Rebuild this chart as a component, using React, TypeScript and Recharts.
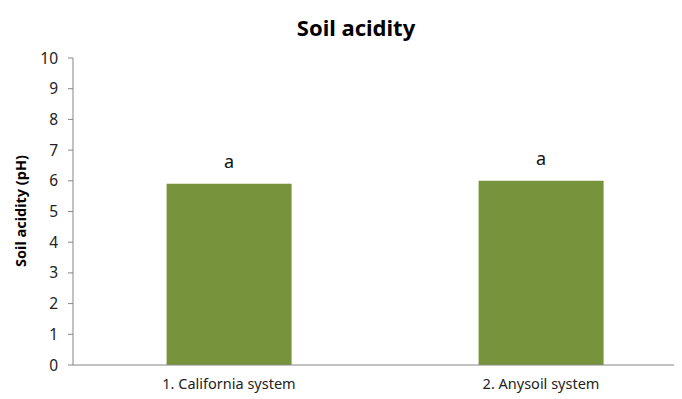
import { BarChart, Bar, XAxis, YAxis, LabelList } from 'recharts'

const systems = ['1. California system', '2. Anysoil system']
const phValues = [5.9, 6.0]
const letters = ['a', 'a']
const yTicks = [0, 1, 2, 3, 4, 5, 6, 7, 8, 9, 10]

const data = systems.map((name, i) => ({ name, ph: phValues[i], sig: letters[i] }))

const font = '"Noto Sans", "Open Sans", sans-serif'

export default function App() {
  return (
    <div style={{ width: 674, height: 391, overflow: 'hidden', fontFamily: font }}>
      <BarChart
        width={700}
        height={391}
        data={data}
        margin={{ top: 50, right: 11, bottom: 0, left: 0 }}
        barCategoryGap="30%"
      >
        <text x={348} y={19} textAnchor="middle" dominantBaseline="central" fontSize={22} fontWeight="bold" fill="#000" fontFamily={font}>
          Soil acidity
        </text>
        <text
          x={12}
          y={203}
          transform="rotate(-90 12 203)"
          textAnchor="middle"
          dominantBaseline="central"
          fontSize={14.5}
          fontWeight="bold"
          fill="#000"
          fontFamily={font}
        >
          Soil acidity (pH)
        </text>
        <XAxis
          dataKey="name"
          height={34}
          tickLine={false}
          axisLine={{ stroke: '#868686' }}
          tick={{ fill: '#222', fontSize: 14.5, fontFamily: font }}
          tickMargin={8}
        />
        <YAxis
          width={65}
          domain={[0, 10]}
          ticks={yTicks}
          interval={0}
          tickSize={5}
          tickMargin={10}
          axisLine={{ stroke: '#868686' }}
          tickLine={{ stroke: '#868686' }}
          tick={{ fill: '#222', fontSize: 15.5, fontFamily: font }}
        />
        <Bar dataKey="ph" fill="#77933C" isAnimationActive={false}>
          <LabelList dataKey="sig" position="top" offset={16} fill="#111" fontSize={18} fontFamily={font} />
        </Bar>
      </BarChart>
    </div>
  )
}
